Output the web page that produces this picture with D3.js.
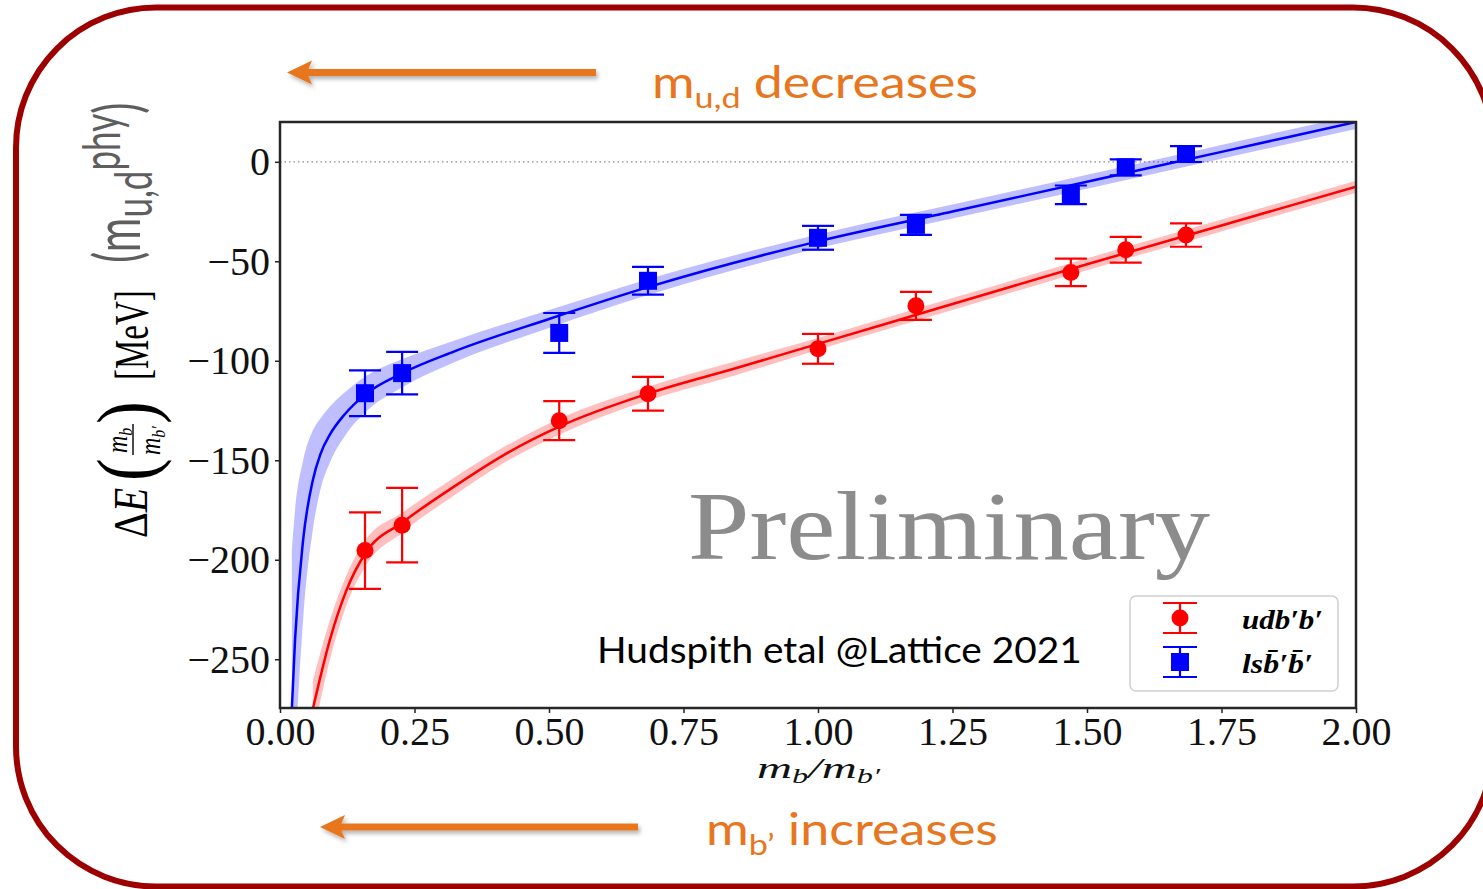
<!DOCTYPE html>
<html>
<head>
<meta charset="utf-8">
<script src="https://cdn.jsdelivr.net/npm/d3@7"></script>
<style>
body { margin: 0; background: #fff; }
</style>
</head>
<body>
<svg id="main" width="1483" height="889"></svg>
<script>
// tick values
const xTicks = [0, 0.25, 0.5, 0.75, 1.0, 1.25, 1.5, 1.75, 2.0]
const yTicks = [0, -50, -100, -150, -200, -250]

// lattice points, m_b / m_b'
const massRatio = [0.158, 0.227, 0.519, 0.684, 1.0, 1.182, 1.470, 1.572, 1.684]
// udb'b'
const udbE   = [-195.4, -182.6, -130.1, -116.6, -94, -72.4, -55.6, -44.2, -36.8]
const udbErr = [19.2, 18.7, 9.8, 8.5, 7.5, 7, 6.9, 6.5, 5.9]
// ls bbar' bbar'
const lsbE   = [-116.3, -106.2, -86, -59.8, -38.2, -31.7, -16.6, -2.8, 3.9]
const lsbErr = [11.5, 10.7, 10, 7, 6, 5, 4.7, 4, 4]

// fit curves
const udbFitX    = [0.061, 0.093, 0.124, 0.158, 0.229, 0.322, 0.415, 0.52, 0.684, 0.85, 1.0, 1.25, 1.5, 1.75, 2.0]
const udbFitE    = [-275, -240, -215, -197, -181, -163.5, -147.5, -133, -116.5, -103.5, -91.5, -71.5, -51.5, -32, -12.5]
const udbFitBand = [14, 10, 7.5, 6.5, 5, 4.5, 4, 4, 3.5, 3.5, 3, 3, 3, 3, 3]

const lsbFitX    = [0.022, 0.028, 0.043, 0.061, 0.075, 0.093, 0.12, 0.158, 0.229, 0.322, 0.5, 0.684, 1.0, 1.25, 1.5, 1.75, 2.0]
const lsbFitE    = [-275, -240, -190, -160, -147, -137, -127, -117, -106, -95.5, -79, -63, -40, -25, -10, 5, 20]
const lsbFitBand = [80, 65, 40, 25, 18, 14, 11, 9, 7, 5.5, 4.5, 4, 3.5, 3.5, 3.5, 3.5, 3.5]

const RED = "#ff0000"
const BLUE = "#0000ff"
const ORANGE = "#e8761e"
const SERIF = "'Liberation Serif', 'DejaVu Serif', serif"
const SANS = "Lato, 'Open Sans', sans-serif"

let plot = {left: 280, right: 1356, top: 122, bottom: 708}

let x = d3.scaleLinear()
	.domain([0, 2])
	.range([plot.left, plot.right])

let y = d3.scaleLinear()
	.domain([-274.5, 20])
	.range([plot.bottom, plot.top])

const svg = d3.select("#main")
const defs = svg.append("defs")

defs.append("clipPath")
	.attr("id", "plotclip")
	.append("rect")
		.attr("x", plot.left)
		.attr("y", plot.top)
		.attr("width", plot.right - plot.left)
		.attr("height", plot.bottom - plot.top)

const shadow = defs.append("filter")
	.attr("id", "shadow")
	.attr("x", "-10%").attr("y", "-50%")
	.attr("width", "120%").attr("height", "200%")
shadow.append("feDropShadow")
	.attr("dx", 2).attr("dy", 3)
	.attr("stdDeviation", 2)
	.attr("flood-color", "#000")
	.attr("flood-opacity", 0.3)

// slide border
svg.append("rect")
	.attr("x", 16).attr("y", 7.5)
	.attr("width", 1477).attr("height", 879)
	.attr("rx", 140).attr("ry", 140)
	.style("fill", "none")
	.style("stroke", "#9c0000")
	.style("stroke-width", 6)

// stretch a text horizontally so it spans w pixels
const fitText = (sel, tx, ty, w) => {
	const bw = sel.node().getBBox().width
	sel.attr("transform", `translate(${tx},${ty}) scale(${w / bw},1)`)
	return sel
}

// arrows + notes
const arrow = (x0, x1, yy) => {
	const g = svg.append("g").attr("filter", "url(#shadow)")
	g.append("line")
		.attr("x1", x0 + 18).attr("x2", x1)
		.attr("y1", yy).attr("y2", yy)
		.style("stroke", ORANGE)
		.style("stroke-width", 7)
	g.append("path")
		.attr("d", `M${x0},${yy} L${x0 + 25},${yy - 12} L${x0 + 20},${yy} L${x0 + 25},${yy + 12} Z`)
		.style("fill", ORANGE)
}
arrow(287, 596, 72.5)
arrow(320, 638, 827)

const note1 = svg.append("text")
	.style("font-family", SANS)
	.style("font-size", "44px")
	.style("fill", ORANGE)
note1.append("tspan").text("m")
note1.append("tspan").attr("dy", 10).style("font-size", "29px").text("u,d")
note1.append("tspan").attr("dy", -10).text(" decreases")
fitText(note1, 652, 98, 326)

const note2 = svg.append("text")
	.style("font-family", SANS)
	.style("font-size", "44px")
	.style("fill", ORANGE)
note2.append("tspan").text("m")
note2.append("tspan").attr("dy", 10).style("font-size", "29px").text("b\u2019")
note2.append("tspan").attr("dy", -10).text(" increases")
fitText(note2, 706, 845, 292)

// bands and fit lines
const bandArea = (xs, es, bs) => d3.area()
	.x((d, i) => x(xs[i]))
	.y0((d, i) => y(es[i] - bs[i]))
	.y1((d, i) => y(es[i] + bs[i]))
	.curve(d3.curveMonotoneX)(xs)

const fitLine = (xs, es) => d3.line()
	.x((d, i) => x(xs[i]))
	.y((d, i) => y(es[i]))
	.curve(d3.curveMonotoneX)(xs)

const curves = svg.append("g").attr("clip-path", "url(#plotclip)")

// zero line
curves.append("line")
	.attr("x1", plot.left).attr("x2", plot.right)
	.attr("y1", y(0)).attr("y2", y(0))
	.style("stroke", "#888")
	.style("stroke-width", 1.3)
	.style("stroke-dasharray", "1.5,3")

curves.append("path")
	.attr("d", bandArea(lsbFitX, lsbFitE, lsbFitBand))
	.style("fill", BLUE).style("fill-opacity", 0.25)
curves.append("path")
	.attr("d", bandArea(udbFitX, udbFitE, udbFitBand))
	.style("fill", RED).style("fill-opacity", 0.25)
curves.append("path")
	.attr("d", fitLine(lsbFitX, lsbFitE))
	.style("fill", "none").style("stroke", BLUE).style("stroke-width", 2.5)
curves.append("path")
	.attr("d", fitLine(udbFitX, udbFitE))
	.style("fill", "none").style("stroke", RED).style("stroke-width", 2.5)

// error bars
const errorBars = (es, errs, color, shape) => {
	const g = svg.append("g")
	const pts = g.selectAll("g")
		.data(massRatio.map((m, i) => ({m: m, e: es[i], err: errs[i]})))
		.enter()
		.append("g")
	pts.append("line")
		.attr("x1", d => x(d.m)).attr("x2", d => x(d.m))
		.attr("y1", d => y(d.e - d.err)).attr("y2", d => y(d.e + d.err))
		.style("stroke", color).style("stroke-width", 2.2)
	pts.selectAll(".cap")
		.data(d => [d.e - d.err, d.e + d.err].map(v => ({m: d.m, v: v})))
		.enter()
		.append("line")
			.attr("x1", d => x(d.m) - 16).attr("x2", d => x(d.m) + 16)
			.attr("y1", d => y(d.v)).attr("y2", d => y(d.v))
			.style("stroke", color).style("stroke-width", 2.2)
	if (shape == "circle") {
		pts.append("circle")
			.attr("cx", d => x(d.m)).attr("cy", d => y(d.e))
			.attr("r", 8.5)
			.style("fill", color)
	} else {
		pts.append("rect")
			.attr("x", d => x(d.m) - 9).attr("y", d => y(d.e) - 9)
			.attr("width", 18).attr("height", 18)
			.style("fill", color)
	}
}
errorBars(lsbE, lsbErr, BLUE, "square")
errorBars(udbE, udbErr, RED, "circle")

// axes
const xAxis = svg.append("g")
	.attr("transform", `translate(0,${plot.bottom})`)
	.call(d3.axisBottom(x).tickValues(xTicks).tickFormat(d3.format(".2f")).tickSize(5).tickPadding(4))
const yAxis = svg.append("g")
	.attr("transform", `translate(${plot.left},0)`)
	.call(d3.axisLeft(y).tickValues(yTicks).tickSize(5).tickPadding(5))

for (const ax of [xAxis, yAxis]) {
	ax.select(".domain").remove()
	ax.selectAll("line").style("stroke", "#222").style("stroke-width", 1.5)
	ax.selectAll("text")
		.style("font-family", SERIF)
		.style("font-size", "40px")
		.style("fill", "#111")
}

// frame
svg.append("rect")
	.attr("x", plot.left).attr("y", plot.top)
	.attr("width", plot.right - plot.left)
	.attr("height", plot.bottom - plot.top)
	.style("fill", "none")
	.style("stroke", "#262626")
	.style("stroke-width", 2.5)

// x label
const xlab = svg.append("text")
	.style("font-family", SERIF)
	.style("font-style", "italic")
	.style("font-size", "30px")
	.style("fill", "#111")
xlab.append("tspan").text("m")
xlab.append("tspan").attr("dy", 5).style("font-size", "20px").text("b")
xlab.append("tspan").attr("dy", -5).text("/m")
xlab.append("tspan").attr("dy", 5).style("font-size", "20px").text("b\u2032")
fitText(xlab, 757, 778, 124)

// y label, rotated pieces
const vtext = (sx, sy, s, size, family) => svg.append("text")
	.attr("transform", `translate(${sx},${sy}) rotate(-90) scale(1,${s})`)
	.style("font-family", family)
	.style("font-size", size + "px")

const dE = vtext(147, 538, 1.2, 40, SERIF)
dE.append("tspan").text("\u0394")
dE.append("tspan").style("font-style", "italic").text("E")
vtext(154, 481, 1.2, 68, SERIF).style("font-weight", 300).text("(")
const num = vtext(127, 453, 1.2, 24, SERIF).style("font-style", "italic")
num.append("tspan").text("m")
num.append("tspan").attr("dy", 4).style("font-size", "16px").text("b")
svg.append("line")
	.attr("x1", 133).attr("x2", 133)
	.attr("y1", 455).attr("y2", 424)
	.style("stroke", "#111").style("stroke-width", 1.5)
const den = vtext(160, 455, 1.2, 24, SERIF).style("font-style", "italic")
den.append("tspan").text("m")
den.append("tspan").attr("dy", 4).style("font-size", "16px").text("b\u2032")
vtext(154, 424, 1.2, 68, SERIF).text(")")
vtext(148, 380, 1.45, 33, SERIF).text("[MeV]")

const phy = vtext(140, 263, 1.5, 42, SANS).style("fill", "#5e5e5e")
phy.append("tspan").text("(m")
phy.append("tspan").attr("dy", 8).style("font-size", "35px").text("u,d")
phy.append("tspan").attr("dy", -21.3).style("font-size", "35px").text("phy")
phy.append("tspan").attr("dy", 13.3).text(")")

// watermark + credit
const prelim = svg.append("text")
	.style("font-family", SERIF)
	.style("font-size", "98px")
	.style("fill", "#8c8c8c")
	.text("Preliminary")
fitText(prelim, 688, 559, 522)

const credit = svg.append("text")
	.style("font-family", SANS)
	.style("font-size", "37px")
	.style("fill", "#000")
	.text("Hudspith etal @Lattice 2021")
fitText(credit, 597, 663, 485)

// legend
const legend = svg.append("g")
legend.append("rect")
	.attr("x", 1130).attr("y", 596)
	.attr("width", 208).attr("height", 95)
	.attr("rx", 6)
	.style("fill", "#fff")
	.style("stroke", "#d0d0d0")
	.style("stroke-width", 1.5)

const legendItems = [
	{label: "udb\u2032b\u2032", color: RED, shape: "circle", cy: 618, w: 81},
	{label: "lsb\u0304\u2032b\u0304\u2032", color: BLUE, shape: "square", cy: 662, w: 71}
]
legendItems.forEach(d => {
	legend.append("line")
		.attr("x1", 1180).attr("x2", 1180)
		.attr("y1", d.cy - 15).attr("y2", d.cy + 15)
		.style("stroke", d.color).style("stroke-width", 2.2)
	for (const cy of [d.cy - 15, d.cy + 15]) {
		legend.append("line")
			.attr("x1", 1163).attr("x2", 1197)
			.attr("y1", cy).attr("y2", cy)
			.style("stroke", d.color).style("stroke-width", 2.2)
	}
	if (d.shape == "circle") {
		legend.append("circle").attr("cx", 1180).attr("cy", d.cy).attr("r", 8.5).style("fill", d.color)
	} else {
		legend.append("rect").attr("x", 1171).attr("y", d.cy - 9).attr("width", 18).attr("height", 18).style("fill", d.color)
	}
	const t = legend.append("text")
		.style("font-family", SERIF)
		.style("font-style", "italic")
		.style("font-weight", "bold")
		.style("font-size", "28px")
		.text(d.label)
	fitText(t, 1242, d.cy + 11, d.w)
})
</script>
</body>
</html>
